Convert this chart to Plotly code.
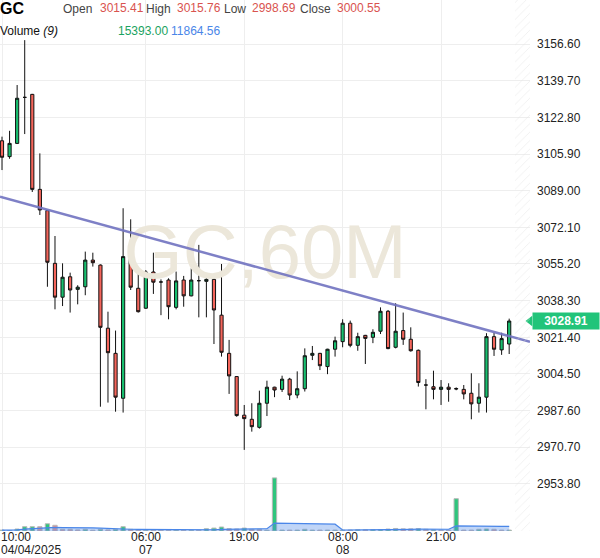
import plotly.graph_objects as go
import pandas as pd

# ---------------- data ----------------
opens = [3112.0, 3104.7, 3110.8, 3132.0, 3133.4, 3089.6, 3079.8, 3055.5, 3039.9, 3049.3,
         3043.5, 3044.7, 3057.0, 3054.7, 3025.6, 3014.0, 2993.3, 3058.6, 3044.0, 3034.8,
         3051.5, 3046.9, 3047.8, 3035.2, 3047.8, 3040.5, 3047.5, 3047.2, 3048.1, 3031.6,
         3014.0, 3003.3, 2985.5, 2983.6, 2979.9, 2991.0, 2998.4, 2997.4, 3002.1, 2994.8,
         2997.7, 3013.1, 3014.0, 3007.9, 3015.9, 3019.4, 3027.9, 3017.7, 3022.3, 3021.4,
         3024.2, 3033.4, 3016.8, 3024.5, 3020.5, 3015.41, 2999.4, 2998.6, 2997.4, 2998.4,
         2997.8, 2997.4, 2995.6, 2991.0, 2993.8, 3021.7, 3015.6, 3018.3]
highs = [3113.9, 3116.6, 3137.7, 3158.4, 3133.6, 3106.2, 3080.0, 3068.1, 3055.5, 3051.2,
         3045.4, 3060.9, 3060.4, 3055.0, 3033.2, 3024.5, 3080.9, 3075.8, 3050.9, 3052.4,
         3060.4, 3048.1, 3048.6, 3051.7, 3049.7, 3053.2, 3064.0, 3049.3, 3050.0, 3055.2,
         3020.2, 3003.5, 2990.2, 2991.0, 2996.8, 3001.4, 2998.6, 3003.7, 3002.7, 3005.7,
         3016.3, 3017.4, 3014.2, 3016.1, 3021.7, 3029.7, 3029.1, 3023.5, 3022.5, 3025.1,
         3035.2, 3034.0, 3037.1, 3032.8, 3026.0, 3015.76, 3002.1, 3006.0, 3001.7, 3000.2,
         2998.3, 2999.4, 3004.8, 3000.2, 3023.3, 3023.5, 3023.5, 3030.0]
lows = [3098.5, 3103.7, 3110.5, 3115.1, 3088.4, 3077.8, 3044.7, 3034.3, 3035.8, 3032.8,
        3036.6, 3040.8, 3054.0, 2989.4, 2991.3, 2987.1, 2986.7, 3043.2, 3032.8, 3034.5,
        3041.4, 3031.6, 3029.7, 3034.3, 3035.5, 3040.3, 3030.6, 3030.6, 3018.3, 3012.5,
        2995.3, 2984.8, 2969.5, 2977.9, 2979.3, 2985.1, 2993.8, 2996.2, 2992.5, 2993.3,
        2996.4, 3010.9, 3006.3, 3004.4, 3012.5, 3016.8, 3016.8, 3015.2, 3009.1, 3018.7,
        3022.9, 3015.9, 3016.3, 3017.9, 3014.8, 2998.69, 2988.2, 2992.8, 2990.2, 2991.7,
        2997.0, 2992.8, 2983.6, 2986.7, 2986.7, 3012.8, 3013.3, 3013.7]
closes = [3104.4, 3110.8, 3131.6, 3132.0, 3089.6, 3080.1, 3056.0, 3039.9, 3049.1, 3043.2,
          3044.5, 3057.0, 3055.8, 3026.0, 3014.3, 2993.8, 3058.6, 3044.5, 3033.2, 3051.5,
          3046.8, 3046.9, 3035.5, 3047.4, 3040.5, 3047.8, 3047.5, 3048.1, 3034.0, 3014.5,
          3003.6, 2985.3, 2983.9, 2980.2, 2991.0, 2998.4, 2997.1, 3002.1, 2994.8, 2997.7,
          3012.9, 3014.0, 3008.3, 3015.9, 3019.8, 3027.9, 3017.7, 3021.7, 3020.9, 3023.7,
          3033.4, 3016.2, 3024.2, 3020.5, 3015.2, 3000.55, 2999.4, 2997.4, 2998.4, 2997.4,
          2997.6, 2995.3, 2990.7, 2993.8, 3021.7, 3015.9, 3020.8, 3028.91]
volumes = [6000, 3000, 13000, 28000, 28000, 28000, 47000, 37000, 11000, 11000,
           7000, 11000, 5000, 11000, 7000, 11000, 28000, 11000, 7000, 6000,
           6000, 6000, 5000, 6000, 5000, 5000, 5000, 15000, 19000, 26000,
           15000, 13000, 19000, 11000, 11000, 5000, 345000, 6000, 6000, 6000,
           11000, 6000, 6000, 6000, 6000, 6000, 6000, 8000, 8000, 9000,
           9000, 13000, 16388, 14000, 14000, 15393, 11000, 7000, 6000, 6000,
           210000, 6000, 6000, 11000, 13000, 11000, 6000, 6000]
volume_dir = ["u","u","u","u","u","d","u","d","d","d",
              "d","u","d","u","d","u","u","d","d","u",
              "d","d","d","u","d","u","d","u","u","u",
              "d","d","u","d","d","u","u","u","d","u",
              "u","u","d","u","u","u","d","u","d","u",
              "u","u","u","d","d","u","d","u","d","d",
              "u","d","d","u","u","d","d","u"]
bar_index = list(range(len(opens)))

tick_index = [0, 19, 32, 45, 58]
tick_time = ["10:00", "06:00", "19:00", "08:00", "21:00"]
tick_date = ["04/04/2025", "07", "", "08", ""]

price_ticks = [2953.80, 2970.70, 2987.60, 3004.50, 3021.40, 3038.30, 3055.20,
               3072.10, 3089.00, 3105.90, 3122.80, 3139.70, 3156.60]

trend_x = [-0.264, 69.75]
trend_y = [3086.2, 3019.3]

hover_bar = 55
symbol = "GC"
watermark = "GC,60M"
ma_period = 9

# ---------------- derived ----------------
vol_ma = pd.Series(volumes).rolling(ma_period, min_periods=1).mean().tolist()
x_range = [-0.264, 69.75]
y_range = [2932.1, 3176.9]
vol_range = [0, 3451500]

GREEN = "#18BF6F"
RED = "#F4655B"
W, PW, PH = 600, 530, 531

fig = go.Figure()

# watermark (behind everything)
fig.add_trace(go.Scatter(
    x=[(x_range[0] + x_range[1]) / 2], y=[(y_range[0] + y_range[1]) / 2 + 3],
    mode="text", text=[watermark],
    textfont=dict(size=76, color="#ECE7DA", family="Liberation Sans, Arial"),
    hoverinfo="skip", showlegend=False))

# volume bars
fig.add_trace(go.Bar(
    x=bar_index, y=volumes, yaxis="y2", width=0.57,
    marker=dict(color=["rgba(24,191,111,0.9)" if d == "u" else "rgba(236,110,104,0.75)" for d in volume_dir],
                line=dict(color="#B8B8B8", width=1)),
    hoverinfo="skip", showlegend=False))

# volume MA area
fig.add_trace(go.Scatter(
    x=bar_index, y=vol_ma, yaxis="y2", mode="lines",
    line=dict(color="#4A86E8", width=1.2), fill="tozeroy",
    fillcolor="rgba(74,134,232,0.35)", hoverinfo="skip", showlegend=False))

# hatched future area
fig.add_trace(go.Bar(
    x=[(67.77 + x_range[1]) / 2], y=[vol_range[1]], yaxis="y2", width=x_range[1] - 67.77,
    marker=dict(color="rgba(255,255,255,0)", line=dict(width=0),
                pattern=dict(shape="/", fgcolor="#E2E2E2", bgcolor="rgba(255,255,255,0)",
                             size=6, solidity=0.15)),
    hoverinfo="skip", showlegend=False))

# candles
fig.add_trace(go.Candlestick(
    x=bar_index, open=opens, high=highs, low=lows, close=closes,
    increasing=dict(line=dict(color="#111111", width=1), fillcolor=GREEN),
    decreasing=dict(line=dict(color="#111111", width=1), fillcolor=RED),
    whiskerwidth=0, showlegend=False, hoverinfo="skip"))

# trend line
fig.add_trace(go.Scatter(
    x=trend_x, y=trend_y, mode="lines",
    line=dict(color="rgba(112,114,192,0.9)", width=2.5),
    hoverinfo="skip", showlegend=False))

# last price notch
fig.add_trace(go.Scatter(
    x=[x_range[1]], y=[closes[-1]], mode="markers",
    marker=dict(symbol="triangle-left", size=9, color="#22C47A"),
    cliponaxis=False, hoverinfo="skip", showlegend=False))

anns = []
def hdr(px, py, text, color="#333333", size=12, bold=False):
    anns.append(dict(xref="paper", yref="paper", x=px / PW, y=1 - py / PH,
                     xanchor="left", yanchor="middle", text=("<b>%s</b>" % text) if bold else text,
                     showarrow=False, borderpad=0,
                     font=dict(size=size, color=color, family="Liberation Sans, Arial")))

hdr(-1, 8, symbol, "#000000", 16, True)
hdr(62, 9, "Open", "#444444")
hdr(99, 8, "%.2f" % opens[hover_bar], "#D9534F")
hdr(145, 9, "High", "#444444")
hdr(176, 8, "%.2f" % highs[hover_bar], "#D9534F")
hdr(223, 9, "Low", "#444444")
hdr(251, 8, "%.2f" % lows[hover_bar], "#D9534F")
hdr(299, 9, "Close", "#444444")
hdr(336, 8, "%.2f" % closes[hover_bar], "#D9534F")
hdr(-1, 31, "Volume <i>(%d)</i>" % ma_period, "#111111")
hdr(117, 31, "%.2f" % volumes[hover_bar], "#1AA260")
hdr(170, 31, "%.2f" % vol_ma[hover_bar], "#4A86E8")

# x-axis labels
for i, (ti, tt, td) in enumerate(zip(tick_index, tick_time, tick_date)):
    xa = "left" if i == 0 else "center"
    xv = x_range[0] if i == 0 else ti
    anns.append(dict(xref="x", yref="paper", x=xv, y=0, yanchor="middle", yshift=-6,
                     xanchor=xa, text=tt, showarrow=False, borderpad=0,
                     font=dict(size=12, color="#222222", family="Liberation Sans, Arial")))
    if td:
        anns.append(dict(xref="x", yref="paper", x=xv, y=0, yanchor="middle", yshift=-19,
                         xanchor=xa, text=td, showarrow=False, borderpad=0,
                         font=dict(size=12, color="#222222", family="Liberation Sans, Arial")))

# last price label
anns.append(dict(xref="paper", yref="y", x=1.0 + 2 / PW, y=closes[-1], xanchor="left",
                 yanchor="middle", text="<b>%.2f</b>" % closes[-1], showarrow=False,
                 bgcolor="#22C47A", borderpad=1, width=64, height=14,
                 font=dict(size=12, color="#FFFFFF", family="Liberation Sans, Arial")))

fig.update_layout(
    width=W, height=558,
    margin=dict(l=0, r=W - PW, t=0, b=558 - PH),
    paper_bgcolor="white", plot_bgcolor="white",
    barmode="overlay", boxgap=0.4,
    font=dict(family="Liberation Sans, Arial", size=12, color="#222222"),
    xaxis=dict(range=x_range, tickvals=tick_index, showticklabels=False,
               showgrid=True, gridcolor="#EEEEEE", gridwidth=1, zeroline=False,
               rangeslider=dict(visible=False), fixedrange=True),
    yaxis=dict(range=y_range, side="right", tickvals=price_ticks,
               ticktext=["%.2f" % v for v in price_ticks],
               showgrid=True, gridcolor="#EEEEEE", zeroline=False, ticks="",
               ticklabelstandoff=6,
               tickfont=dict(size=12, color="#222222")),
    yaxis2=dict(range=vol_range, overlaying="y", side="right", visible=False,
                showgrid=False),
    annotations=anns,
    showlegend=False,
)

fig.write_html("out.html", config={"displayModeBar": False})

# remove the browser's default page margin so the chart sits at the window origin
with open("out.html", "r", encoding="utf-8") as f:
    html = f.read()
html = html.replace("<body>", '<body style="margin:0;padding:0;overflow:hidden">', 1)
with open("out.html", "w", encoding="utf-8") as f:
    f.write(html)
